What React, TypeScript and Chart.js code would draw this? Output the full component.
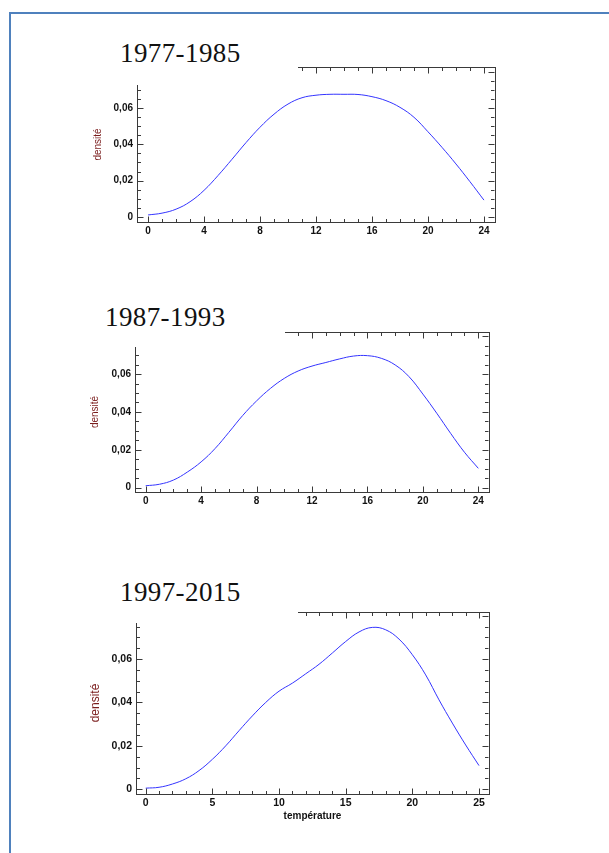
import React, { useEffect, useRef } from 'react';
import { Chart, registerables } from 'chart.js';
Chart.register(...registerables);

// ---- data ----
const temps7785 = [0, 1, 2, 3, 4, 5, 6, 7, 8, 9, 10, 11, 12, 13, 14, 15, 16, 17, 18, 19, 20, 21, 22, 23, 24];
const dens7785 = [0.001, 0.002, 0.0042, 0.0083, 0.0146, 0.0228, 0.0318, 0.041, 0.0495, 0.0567, 0.0623, 0.0658, 0.0672, 0.0677, 0.0677, 0.0676, 0.0664, 0.0642, 0.0605, 0.055, 0.047, 0.0384, 0.0292, 0.0194, 0.0092];

const temps8793 = [0, 1, 2, 3, 4, 5, 6, 7, 8, 9, 10, 11, 12, 13, 14, 15, 16, 17, 18, 19, 20, 21, 22, 23, 24];
const dens8793 = [0.001, 0.0018, 0.004, 0.0082, 0.0136, 0.0206, 0.0292, 0.0381, 0.0458, 0.0524, 0.0577, 0.0616, 0.0642, 0.0661, 0.068, 0.0695, 0.0697, 0.0683, 0.0648, 0.0586, 0.0494, 0.0393, 0.0287, 0.0187, 0.0102];

const temps9715 = [0, 1, 2, 3, 4, 5, 6, 7, 8, 9, 10, 11, 12, 13, 14, 15, 16, 17, 18, 19, 20, 21, 22, 23, 24, 25];
const dens9715 = [0.0005, 0.0009, 0.0024, 0.0048, 0.0086, 0.0138, 0.02, 0.027, 0.0338, 0.04, 0.0452, 0.0489, 0.0532, 0.0576, 0.0628, 0.0681, 0.0725, 0.0746, 0.0735, 0.0692, 0.062, 0.0527, 0.0412, 0.0305, 0.0204, 0.0109];

const xTicks24 = [0, 4, 8, 12, 16, 20, 24];
const xTicks25 = [0, 5, 10, 15, 20, 25];
const yTickValues = [0, 0.02, 0.04, 0.06];
const yTickLabels = ['0', '0,02', '0,04', '0,06'];
const periodTitles = ['1977-1985', '1987-1993', '1997-2015'];
const yTitle = 'densité';
const xTitle = 'température';

// ---- layout ----
const Y_W = 57, PAD_T = 12, PAD_R = 15, X_H = 40;
const AXIS = '#3a3a3a';

type Panel = {
  title: string; temps: number[]; dens: number[]; xTicks: number[];
  frame: { l: number; t: number; r: number; b: number };
  xr: [number, number]; yr: [number, number]; xEvery: number;
  cover: { l: number; t: number; r: number; b: number };
  titleX: number; titleBase: number;
  tickFont: number; yTitleFont: number; yTitlePad: number; showXTitle: boolean;
};

const panels: Panel[] = [
  { title: periodTitles[0], temps: temps7785, dens: dens7785, xTicks: xTicks24,
    frame: { l: 137, t: 67, r: 495, b: 222 }, xr: [-0.79, 24.79], yr: [-0.0029, 0.0828], xEvery: 4,
    cover: { l: 100, t: 25, r: 298, b: 85 }, titleX: 120, titleBase: 62,
    tickFont: 10, yTitleFont: 10, yTitlePad: 12, showXTitle: false },
  { title: periodTitles[1], temps: temps8793, dens: dens8793, xTicks: xTicks24,
    frame: { l: 135, t: 332, r: 489, b: 492 }, xr: [-0.77, 24.77], yr: [-0.0023, 0.0822], xEvery: 4,
    cover: { l: 90, t: 290, r: 285, b: 347 }, titleX: 105, titleBase: 326,
    tickFont: 10, yTitleFont: 10, yTitlePad: 11, showXTitle: false },
  { title: periodTitles[2], temps: temps9715, dens: dens9715, xTicks: xTicks25,
    frame: { l: 136, t: 612, r: 489, b: 794 }, xr: [-0.73, 25.75], yr: [-0.0022, 0.0817], xEvery: 5,
    cover: { l: 100, t: 565, r: 298, b: 623 }, titleX: 120, titleBase: 601,
    tickFont: 10.5, yTitleFont: 12, yTitlePad: 9, showXTitle: true },
];

const innerTicks = {
  id: 'innerTicks',
  afterDraw(chart: any, _a: any, o: any) {
    const { ctx, chartArea: a } = chart;
    const xs = chart.scales.x, ys = chart.scales.y;
    const MAJ = 6, MIN = 3.5;
    ctx.save();
    ctx.strokeStyle = AXIS;
    ctx.lineWidth = 1;
    ctx.beginPath();
    const top = Math.round(a.top) + 0.5, bottom = Math.round(a.bottom) + 0.5;
    const left = Math.round(a.left) + 0.5, right = Math.round(a.right) - 0.5;
    const nx = Math.round((o.xTo - o.xFrom) / o.xStep);
    for (let i = 0; i <= nx; i++) {
      const v = o.xFrom + i * o.xStep;
      const p = Math.round(xs.getPixelForValue(v)) + 0.5;
      const len = i % o.xEvery === 0 ? MAJ : MIN;
      ctx.moveTo(p, bottom); ctx.lineTo(p, bottom - len);
      ctx.moveTo(p, top); ctx.lineTo(p, top + len);
    }
    const ny = Math.round((o.yTo - o.yFrom) / o.yStep);
    for (let i = 0; i <= ny; i++) {
      const v = o.yFrom + i * o.yStep;
      const p = Math.round(ys.getPixelForValue(v)) + 0.5;
      if (p < a.top || p > a.bottom) continue;
      const len = i % o.yEvery === 0 ? MAJ : MIN;
      ctx.moveTo(left, p); ctx.lineTo(left + len, p);
      ctx.moveTo(right, p); ctx.lineTo(right - len, p);
    }
    ctx.stroke();
    ctx.restore();
  },
};

function DensityChart({ p }: { p: Panel }) {
  const ref = useRef<HTMLCanvasElement | null>(null);
  const w = p.frame.r - p.frame.l + Y_W + PAD_R;
  const h = p.frame.b - p.frame.t + PAD_T + X_H;
  useEffect(() => {
    if (!ref.current) return;
    const tickFont = { family: 'Liberation Sans', size: p.tickFont, weight: 'bold' as const };
    const chart = new Chart(ref.current, {
      type: 'line',
      data: {
        datasets: [{
          data: p.temps.map((t, i) => ({ x: t, y: p.dens[i] })),
          borderColor: '#3434ff',
          borderWidth: 1,
          pointRadius: 0,
          fill: false,
          tension: 0.4,
        }],
      },
      options: {
        responsive: false,
        animation: false,
        events: [],
        layout: { padding: { top: PAD_T, right: PAD_R, left: 0, bottom: 0 } },
        plugins: {
          legend: { display: false },
          tooltip: { enabled: false },
          innerTicks: {
            xFrom: p.xTicks[0], xTo: p.xTicks[p.xTicks.length - 1], xStep: 1, xEvery: p.xEvery,
            yFrom: 0, yTo: 0.08, yStep: 0.005, yEvery: 4,
          },
        } as any,
        scales: {
          x: {
            type: 'linear', position: 'bottom', min: p.xr[0], max: p.xr[1],
            afterFit: (s: any) => { s.height = X_H; },
            afterBuildTicks: (s: any) => { s.ticks = p.xTicks.map((v) => ({ value: v })); },
            grid: { display: false, drawTicks: false },
            border: { display: true, color: AXIS, width: 1 },
            ticks: {
              padding: 3, color: '#111', font: tickFont, maxRotation: 0, autoSkip: false,
              callback: (_v: any, i: number) => String(p.xTicks[i]),
            },
            title: {
              display: p.showXTitle, text: xTitle, color: '#111',
              font: { family: 'Liberation Sans', size: 10, weight: 'bold' },
              padding: { top: 0, bottom: 12 },
            },
          },
          x2: {
            type: 'linear', position: 'top', min: p.xr[0], max: p.xr[1],
            afterFit: (s: any) => { s.height = 0; },
            grid: { display: false, drawTicks: false },
            border: { display: true, color: AXIS, width: 1 },
            ticks: { display: false },
          },
          y: {
            type: 'linear', position: 'left', min: p.yr[0], max: p.yr[1],
            afterFit: (s: any) => { s.width = Y_W; },
            afterBuildTicks: (s: any) => { s.ticks = yTickValues.map((v) => ({ value: v })); },
            grid: { display: false, drawTicks: false },
            border: { display: true, color: AXIS, width: 1 },
            ticks: {
              padding: 4, color: '#111', font: tickFont, autoSkip: false,
              callback: (_v: any, i: number) => yTickLabels[i],
            },
            title: {
              display: true, text: yTitle, color: '#7a1c1c',
              font: { family: 'Liberation Sans', size: p.yTitleFont },
              padding: { top: p.yTitlePad, bottom: 0 },
            },
          },
          y2: {
            type: 'linear', position: 'right', min: p.yr[0], max: p.yr[1],
            afterFit: (s: any) => { s.width = 0; },
            grid: { display: false, drawTicks: false },
            border: { display: true, color: AXIS, width: 1 },
            ticks: { display: false },
          },
        },
      } as any,
      plugins: [innerTicks as any],
    });
    return () => chart.destroy();
  }, [p]);
  return (
    <canvas
      ref={ref}
      width={w}
      height={h}
      style={{ position: 'absolute', left: p.frame.l - Y_W, top: p.frame.t - PAD_T, width: w, height: h }}
    />
  );
}

export default function App() {
  return (
    <div style={{ position: 'absolute', left: 0, top: 0, width: 609, height: 853, overflow: 'hidden', background: '#fff' }}>
      <div style={{ position: 'absolute', left: 9, top: 12, width: 800, height: 1000, border: '2px solid #4f81bd', boxSizing: 'border-box' }} />
      {panels.map((p, i) => (
        <React.Fragment key={i}>
          <DensityChart p={p} />
          <div style={{ position: 'absolute', left: p.cover.l, top: p.cover.t, width: p.cover.r - p.cover.l, height: p.cover.b - p.cover.t, background: '#fff' }}>
            <span style={{
              position: 'absolute', left: p.titleX - p.cover.l, top: p.titleBase - 23.4 - p.cover.t,
              fontFamily: '"Liberation Serif", serif', fontSize: 27, lineHeight: '28px', color: '#111', whiteSpace: 'nowrap',
              letterSpacing: 0.4,
            }}>{p.title}</span>
          </div>
        </React.Fragment>
      ))}
    </div>
  );
}
